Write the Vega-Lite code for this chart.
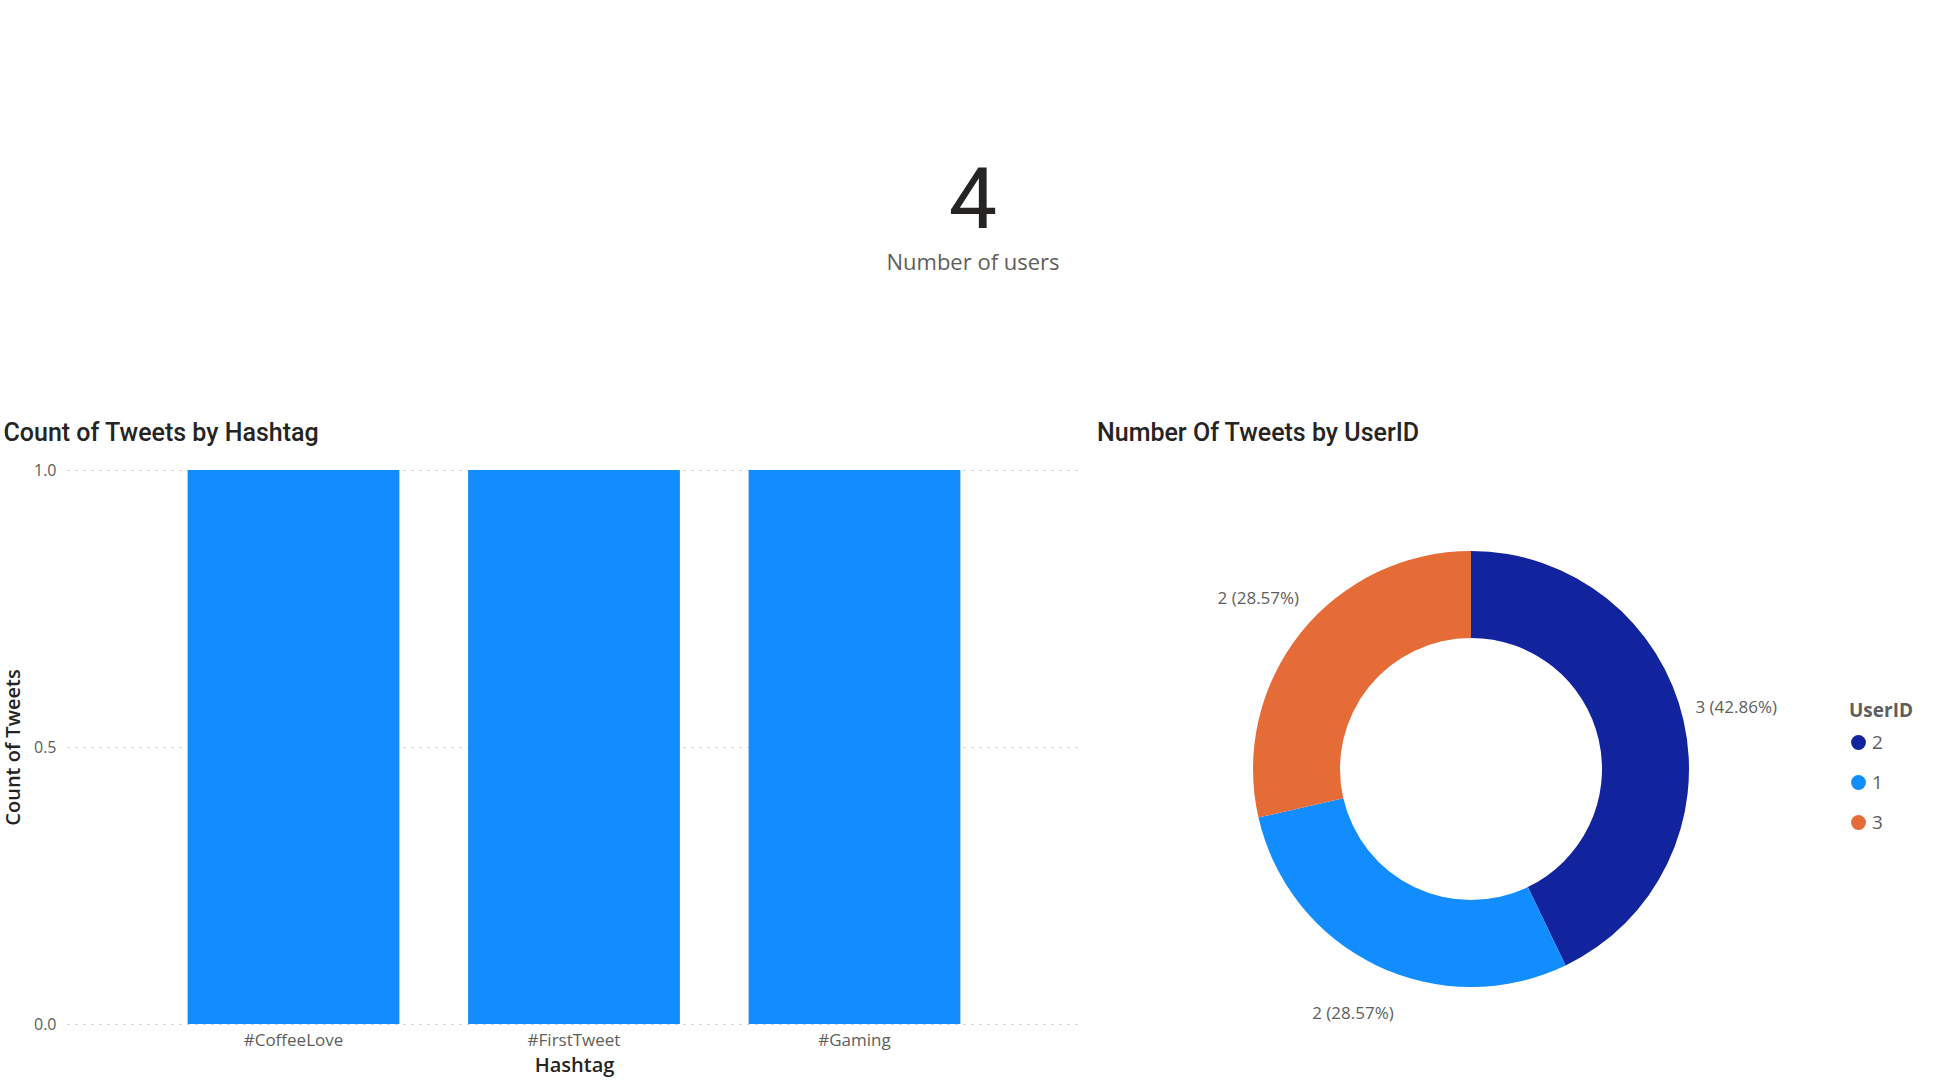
{
  "$schema": "https://vega.github.io/schema/vega-lite/v6.json",
  "padding": {"left": 3, "top": 0, "right": 0, "bottom": 4},
  "autosize": {"type": "pad"},
  "background": "white",
  "config": {
    "view": {"stroke": null},
    "font": "Open Sans",
    "title": {"font": "Roboto", "fontSize": 25, "fontWeight": 500, "color": "#252423", "anchor": "start"}
  },
  "datasets": {
    "kpi": [{"label": "Number of users", "value": 4}],
    "hashtags": [
      {"Hashtag": "#CoffeeLove", "Count": 1},
      {"Hashtag": "#FirstTweet", "Count": 1},
      {"Hashtag": "#Gaming", "Count": 1}
    ],
    "users": [
      {"UserID": "2", "Tweets": 3, "Label": "3 (42.86%)"},
      {"UserID": "1", "Tweets": 2, "Label": "2 (28.57%)"},
      {"UserID": "3", "Tweets": 2, "Label": "2 (28.57%)"}
    ]
  },
  "vconcat": [
    {
      "width": 1812,
      "height": 401,
      "data": {"name": "kpi"},
      "layer": [
        {
          "mark": {"type": "text", "font": "Roboto", "fontSize": 86, "baseline": "alphabetic", "dy": 27, "color": "#252423"},
          "encoding": {"text": {"field": "value", "type": "quantitative"}}
        },
        {
          "mark": {"type": "text", "font": "Open Sans", "fontSize": 22, "baseline": "alphabetic", "dy": 69, "color": "#605E5C"},
          "encoding": {"text": {"field": "label", "type": "nominal"}}
        }
      ]
    },
    {
      "spacing": 16,
      "hconcat": [
        {
          "title": {"text": "Count of Tweets by Hashtag", "frame": "bounds", "offset": 16},
          "width": 1014,
          "height": 554,
          "data": {"name": "hashtags"},
          "mark": {"type": "bar", "color": "#118DFF"},
          "encoding": {
            "x": {
              "field": "Hashtag", "type": "nominal", "sort": null,
              "scale": {"paddingInner": 0.245, "paddingOuter": 0.43},
              "axis": {
                "title": "Hashtag", "labelAngle": 0, "domain": false, "ticks": false,
                "labelPadding": 8, "labelFontSize": 17, "labelColor": "#605E5C", "labelFont": "Open Sans",
                "titleFontSize": 20, "titleFontWeight": 600, "titleColor": "#252423", "titlePadding": 7, "titleFont": "Open Sans"
              }
            },
            "y": {
              "field": "Count", "type": "quantitative",
              "scale": {"domain": [0, 1]},
              "axis": {
                "title": "Count of Tweets", "values": [0, 0.5, 1], "format": ".1f",
                "domain": false, "ticks": false, "labelPadding": 11,
                "labelFontSize": 16, "labelColor": "#605E5C", "labelFont": "Open Sans",
                "grid": true, "gridColor": "#C8C6C4", "gridDash": [2, 6], "gridWidth": 1,
                "titleFontSize": 20, "titleFontWeight": 600, "titleColor": "#252423", "titlePadding": 10, "titleFont": "Open Sans"
              }
            }
          }
        },
        {
          "title": {"text": "Number Of Tweets by UserID", "offset": 24},
          "width": 748,
          "height": 598,
          "data": {"name": "users"},
          "encoding": {
            "theta": {"field": "Tweets", "type": "quantitative", "stack": true},
            "order": {"field": "Tweets", "type": "quantitative", "sort": "descending"},
            "color": {
              "field": "UserID", "type": "nominal",
              "scale": {"domain": ["2", "1", "3"], "range": ["#12239E", "#118DFF", "#E66C37"]},
              "legend": {
                "orient": "none", "legendX": 1782, "legendY": 702,
                "title": "UserID", "titleFontSize": 19, "titleFontWeight": "bold", "titleColor": "#605E5C", "titleFont": "Open Sans",
                "labelFontSize": 19, "labelColor": "#605E5C", "labelFont": "Open Sans",
                "symbolType": "circle", "symbolSize": 220, "symbolStrokeWidth": 0, "rowPadding": 20, "titlePadding": 12
              }
            }
          },
          "layer": [
            {"mark": {"type": "arc", "innerRadius": 131, "outerRadius": 218}},
            {
              "mark": {"type": "text", "radius": 272, "fontSize": 17, "color": "#605E5C", "font": "Open Sans"},
              "encoding": {"text": {"field": "Label", "type": "nominal"}, "color": {"value": "#605E5C"}}
            }
          ]
        }
      ]
    }
  ]
}
